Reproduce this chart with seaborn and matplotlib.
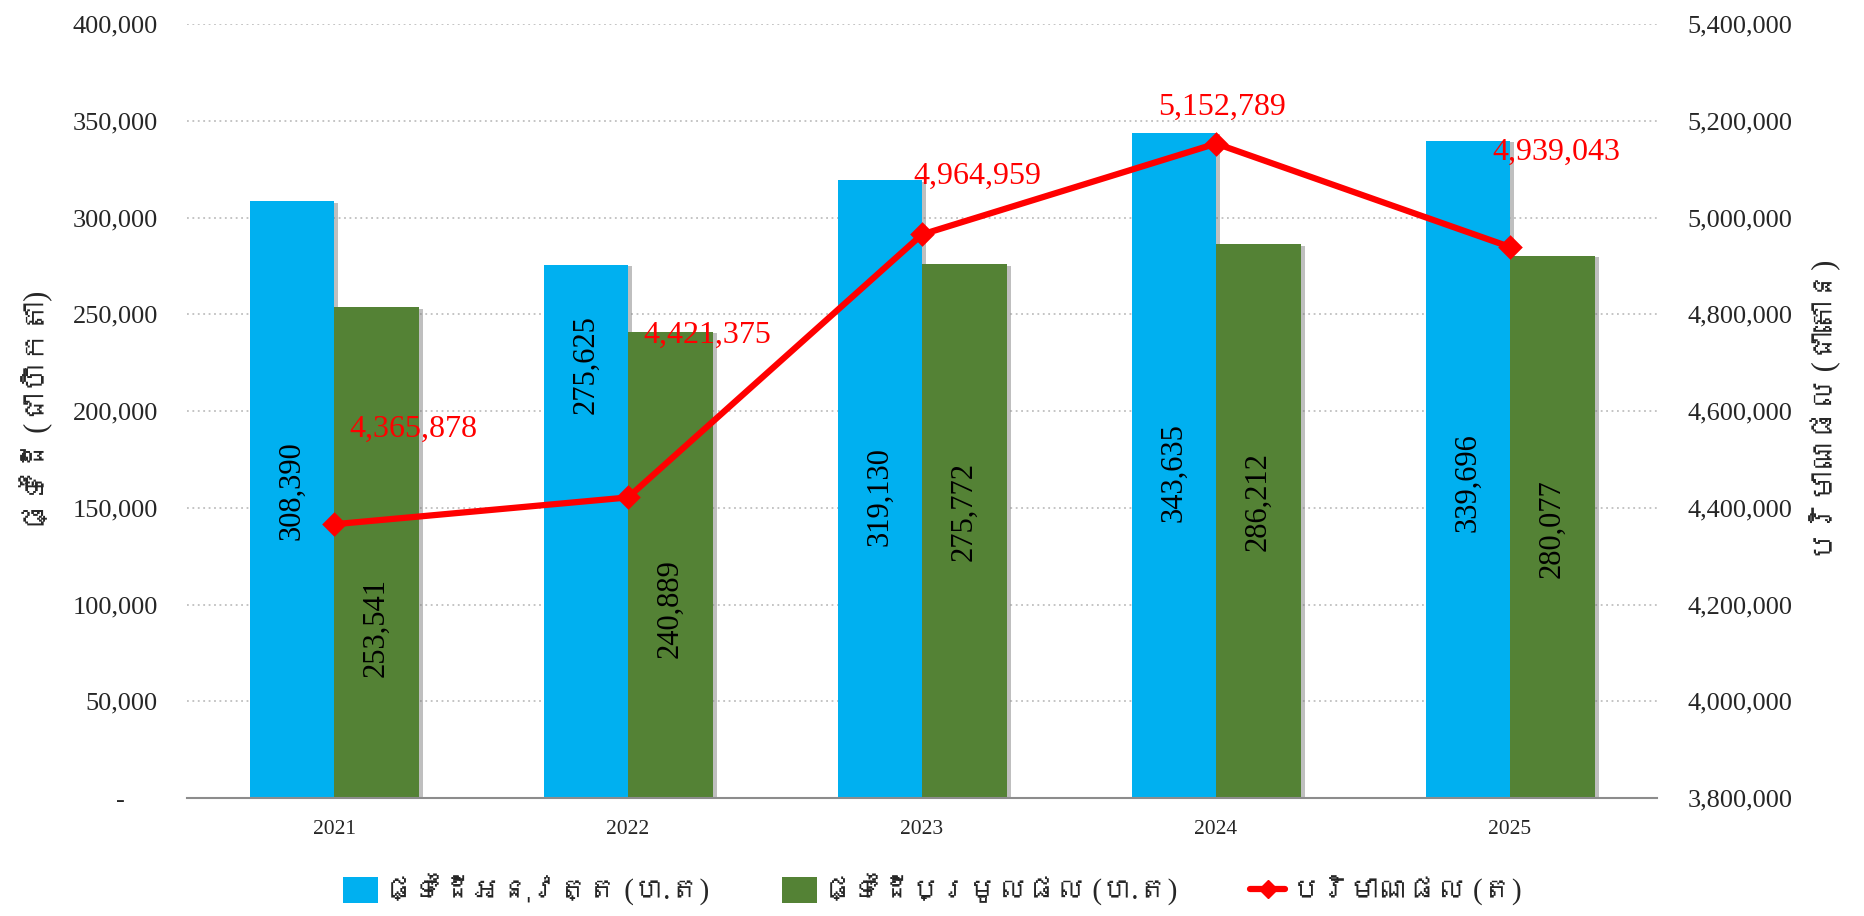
import numpy as np
import pandas as pd
import seaborn as sns
import matplotlib.pyplot as plt
import matplotlib.patheffects as pe
from matplotlib import font_manager
from matplotlib.ft2font import FT2Font
from matplotlib.patches import Patch
from matplotlib.lines import Line2D
from matplotlib.ticker import FuncFormatter, FixedLocator

# data
years = ['2021', '2022', '2023', '2024', '2025']
cultivated = [308390, 275625, 319130, 343635, 339696]
harvested = [253541, 240889, 275772, 286212, 280077]
production = [4365878, 4421375, 4964959, 5152789, 4939043]

series_names = ['ផ្ទៃដីអនុវត្ត (ហ.ត)', 'ផ្ទៃដីប្រមូលផល (ហ.ត)', 'បរិមាណផល (ត)']
left_title = 'ផ្ទៃដី (ជាហិកតា)'
right_title = 'បរិមាណផល (ជាតោន)'

# layout of labels (placed by hand in the original)
blue_label_y = [159000, 224000, 156000, 168000, 163000]
green_label_y = [88000, 98000, 148000, 153000, 139000]
line_label_offsets = [(57, 68), (57, 117), (40, 42), (4, 26), (33, 68)]

blue = '#00B0F0'
green = '#548235'
red = '#FF0000'

# find a font with Khmer glyphs if any is installed
khmer_family = None
for f in font_manager.fontManager.ttflist:
    try:
        if 0x1780 in FT2Font(f.fname).get_charmap():
            khmer_family = f.name
            break
    except Exception:
        pass

sns.set_style('white')
fams = ['Liberation Serif']
if khmer_family:
    fams.append(khmer_family)
fams.append('DejaVu Sans')
plt.rcParams['font.family'] = fams

df = pd.DataFrame({
    'year': years * 2,
    'value': cultivated + harvested,
    'series': [series_names[0]] * len(years) + [series_names[1]] * len(years),
})

fig = plt.figure(figsize=(18.65, 9.16), dpi=100)
ax = fig.add_axes([0.1003, 0.1288, 0.7882, 0.845])

sns.barplot(data=df, x='year', y='value', hue='series', palette=[blue, green],
            width=0.575, ax=ax, legend=False, saturation=1, errorbar=None)

shadow = [pe.SimplePatchShadow(offset=(3, -1), shadow_rgbFace=(0.45, 0.45, 0.45), alpha=0.45), pe.Normal()]
for cont in ax.containers:
    for p in cont:
        p.set_path_effects(shadow)
        p.set_edgecolor('none')

for cont, ys in zip(ax.containers, [blue_label_y, green_label_y]):
    for p, ly in zip(cont, ys):
        ax.text(p.get_x() + p.get_width() / 2, ly, f'{int(p.get_height()):,}',
                rotation=90, ha='center', va='center', fontsize=22, color='black')

ax.set_ylim(0, 400000)
ax.set_yticks(np.arange(0, 400001, 50000))
ax.yaxis.set_major_formatter(FuncFormatter(lambda v, _: '-     ' if v == 0 else f'{int(v):,}'))
ax.grid(axis='y', linestyle=(0, (1, 2)), color='#BFBFBF', linewidth=1.3)
ax.set_axisbelow(True)
for s in ['top', 'right', 'left']:
    ax.spines[s].set_visible(False)
ax.spines['bottom'].set_color('#8C8C8C')
ax.spines['bottom'].set_linewidth(1.5)
ax.tick_params(axis='y', length=0, pad=21, labelsize=19)
ax.tick_params(axis='x', which='major', length=0, pad=16, labelsize=15.5)
ax.xaxis.set_minor_locator(FixedLocator(np.arange(-0.5, len(years), 1.0)))
ax.tick_params(axis='x', which='minor', length=8, width=1.5, color='#8C8C8C')
ax.set_xlabel('')
ax.set_ylabel(left_title, fontsize=22, labelpad=14)

ax2 = ax.twinx()
sns.pointplot(x=years, y=production, ax=ax2, color=red, markers='D',
              markersize=9, linewidth=4.5, errorbar=None)
ax2.set_ylim(3800000, 5400000)
ax2.set_yticks(np.arange(3800000, 5400001, 200000))
ax2.yaxis.set_major_formatter(FuncFormatter(lambda v, _: f'{int(v):,}'))
ax2.tick_params(axis='y', length=0, pad=22, labelsize=19)
for s in ax2.spines.values():
    s.set_visible(False)
ax2.grid(False)
ax2.set_ylabel(right_title, fontsize=22, labelpad=12, rotation=90)
ax2.yaxis.set_label_position('right')

for i, (v, off) in enumerate(zip(production, line_label_offsets)):
    ax2.annotate(f'{v:,}', (i, v), xytext=off, textcoords='offset points',
                 ha='center', va='center', fontsize=23, color=red)

ax.set_xlim(-0.5, len(years) - 0.5)
ax2.set_xlim(-0.5, len(years) - 0.5)

handles = [Patch(facecolor=blue, edgecolor='none'),
           Patch(facecolor=green, edgecolor='none'),
           Line2D([0], [0], color=red, lw=4.5, marker='D', markersize=9)]
fig.legend(handles, series_names, loc='center', bbox_to_anchor=(0.5, 0.028), ncol=3,
           frameon=False, fontsize=21, handlelength=1.2, handleheight=1.0,
           columnspacing=2.5, handletextpad=0.2)

fig.savefig('out.png', dpi=100)
